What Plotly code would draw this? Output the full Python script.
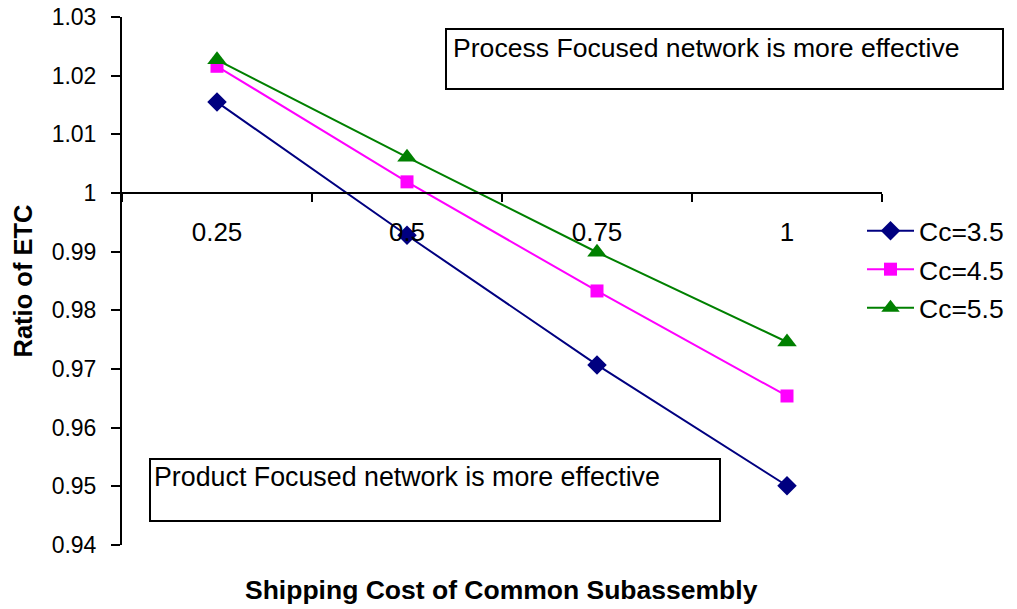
import plotly.graph_objects as go

# Shipping cost levels of the common subassembly (category axis)
shipping_cost = ["0.25", "0.5", "0.75", "1"]

# Ratio of ETC for each common-component cost
ratio_cc35 = [1.0155, 0.9928, 0.9707, 0.9501]
ratio_cc45 = [1.0216, 1.0019, 0.9833, 0.9654]
ratio_cc55 = [1.0227, 1.0061, 0.9899, 0.9746]

series_names = ["Cc=3.5", "Cc=4.5", "Cc=5.5"]

y_tick_vals = [0.94, 0.95, 0.96, 0.97, 0.98, 0.99, 1.00, 1.01, 1.02, 1.03]
y_tick_text = ["0.94", "0.95", "0.96", "0.97", "0.98", "0.99", "1", "1.01", "1.02", "1.03"]

FONT = "Liberation Sans, Arial, sans-serif"
Y_MIN, Y_MAX = 0.94, 1.03
CROSS_AT = 1.0

# plot area in pixels
L, R, T, B = 122, 882, 17, 545
W, H = R - L, B - T


def px_x(p):
    return (p - L) / W


def px_y(p):
    return (B - p) / H


fig = go.Figure()

styles = [
    dict(color="#000080", symbol="diamond", size=15),
    dict(color="#FF00FF", symbol="square", size=13),
    dict(color="#008000", symbol="triangle-up", size=17),
]

for name, values, st in zip(series_names, [ratio_cc35, ratio_cc45, ratio_cc55], styles):
    fig.add_trace(go.Scatter(
        x=shipping_cost, y=values, name=name, mode="lines+markers",
        line=dict(color=st["color"], width=2),
        marker=dict(color=st["color"], symbol=st["symbol"], size=st["size"],
                    line=dict(width=0)),
        legendgroup=name,
    ))

fig.update_layout(
    width=1017, height=609,
    margin=dict(l=L, r=1017 - R, t=T, b=609 - B, autoexpand=False),
    paper_bgcolor="white", plot_bgcolor="white",
    font=dict(family=FONT, size=23, color="black"),
    showlegend=True,
    legend=dict(x=px_x(862), y=px_y(207), xanchor="left", yanchor="top",
                bgcolor="rgba(0,0,0,0)", font=dict(size=26.5),
                tracegroupgap=1, itemwidth=47),
    xaxis=dict(
        type="category", categoryorder="array", categoryarray=shipping_cost,
        range=[-0.5, 3.5], automargin=False,
        anchor="free", position=(CROSS_AT - Y_MIN) / (Y_MAX - Y_MIN),
        showline=True, linecolor="black", linewidth=2,
        ticks="outside", tickson="boundaries", ticklen=8, tickwidth=2, tickcolor="black",
        ticklabelstandoff=16,
        showgrid=False, zeroline=False,
        tickfont=dict(size=26),
    ),
    yaxis=dict(
        range=[Y_MIN, Y_MAX], automargin=False,
        tickvals=y_tick_vals, ticktext=y_tick_text,
        showline=True, linecolor="black", linewidth=2,
        ticks="outside", ticklen=9, tickwidth=2, tickcolor="black",
        ticklabelstandoff=10,
        showgrid=False, zeroline=False,
        tickfont=dict(size=23),
        title=dict(text="<b>Ratio of ETC</b>", font=dict(size=25.5), standoff=12),
    ),
)

# Explanatory boxes
fig.add_shape(type="rect", xref="paper", yref="paper",
              x0=px_x(446), x1=px_x(1003), y0=px_y(89), y1=px_y(29),
              line=dict(color="black", width=2), fillcolor="white", layer="below")
fig.add_annotation(xref="paper", yref="paper",
                   x=px_x(451), y=px_y(31),
                   xanchor="left", yanchor="top", showarrow=False,
                   text="Process Focused network is more effective",
                   font=dict(size=26.6))

fig.add_shape(type="rect", xref="paper", yref="paper",
              x0=px_x(150), x1=px_x(720), y0=px_y(521), y1=px_y(459),
              line=dict(color="black", width=2), fillcolor="white", layer="below")
fig.add_annotation(xref="paper", yref="paper",
                   x=px_x(152), y=px_y(460),
                   xanchor="left", yanchor="top", showarrow=False,
                   text="Product Focused network is more effective",
                   font=dict(size=26.8))

# Horizontal axis title at the bottom of the figure
fig.add_annotation(xref="paper", yref="paper",
                   x=px_x(501), y=px_y(590),
                   xanchor="center", yanchor="middle", showarrow=False,
                   text="<b>Shipping Cost of Common Subassembly</b>",
                   font=dict(size=26.5))

fig.write_html("out.html")
